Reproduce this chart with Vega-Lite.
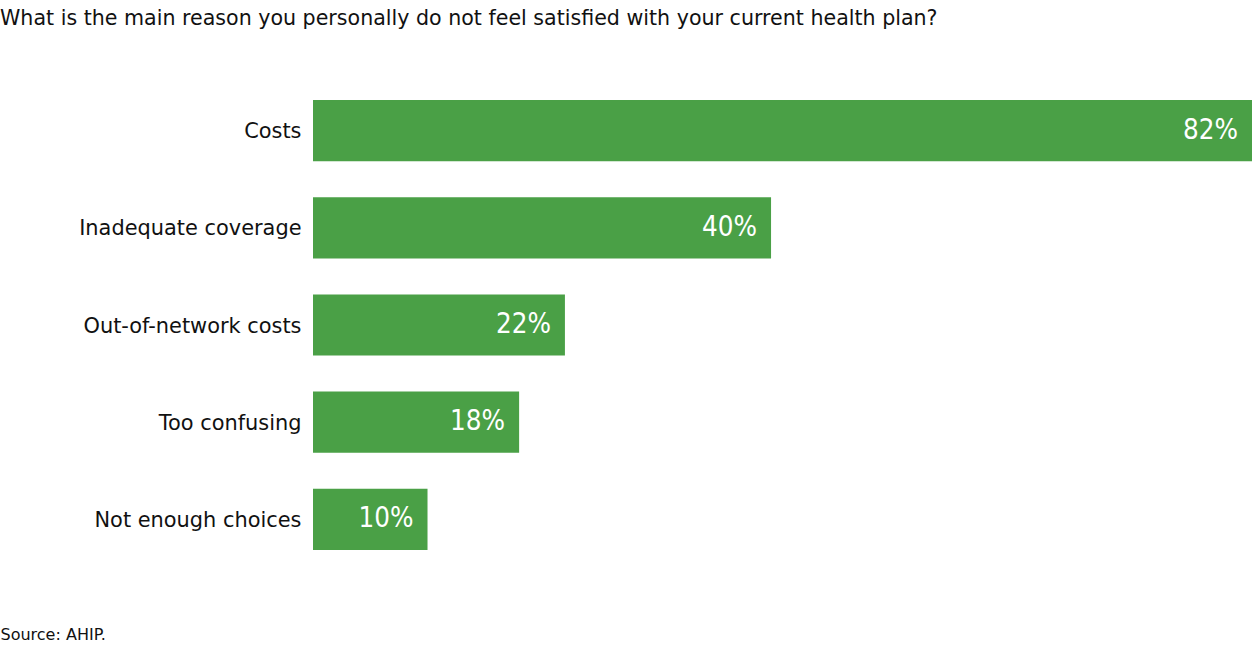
{
  "$schema": "https://vega.github.io/schema/vega-lite/v6.json",
  "autosize": "none",
  "width": 939,
  "height": 486,
  "padding": {"left": 313, "top": 82, "right": 7, "bottom": 79},
  "background": "white",
  "title": {
    "text": "What is the main reason you personally do not feel satisfied with your current health plan?",
    "anchor": "start",
    "frame": "group",
    "dx": -313,
    "offset": 52,
    "font": "DejaVu Sans",
    "fontSize": 20.6,
    "fontWeight": "normal",
    "color": "#111111"
  },
  "data": {
    "values": [
      {"reason": "Costs", "pct": 82, "label": "82%"},
      {"reason": "Inadequate coverage", "pct": 40, "label": "40%"},
      {"reason": "Out-of-network costs", "pct": 22, "label": "22%"},
      {"reason": "Too confusing", "pct": 18, "label": "18%"},
      {"reason": "Not enough choices", "pct": 10, "label": "10%"}
    ]
  },
  "encoding": {
    "y": {
      "field": "reason",
      "type": "nominal",
      "sort": null,
      "scale": {"paddingInner": 0.37, "paddingOuter": 0.185},
      "axis": {
        "title": null,
        "domain": false,
        "ticks": false,
        "labelPadding": 12,
        "labelLimit": 400,
        "labelOffset": 1.5,
        "labelFont": "DejaVu Sans",
        "labelFontSize": 20.9,
        "labelColor": "#111111"
      }
    },
    "x": {
      "field": "pct",
      "type": "quantitative",
      "scale": {"domain": [0, 82], "nice": false},
      "axis": {
        "labels": false,
        "ticks": false,
        "domain": false,
        "grid": false,
        "title": "Source: AHIP.",
        "titleAnchor": "start",
        "titleAlign": "left",
        "titleX": -313,
        "titleY": 58,
        "titleFont": "DejaVu Sans",
        "titleFontSize": 16,
        "titleFontWeight": "normal",
        "titleColor": "#111111"
      }
    }
  },
  "layer": [
    {"mark": {"type": "bar", "color": "#4aa046"}},
    {
      "mark": {
        "type": "text",
        "align": "right",
        "dx": -14,
        "baseline": "middle",
        "color": "white",
        "font": "DejaVu Sans Condensed",
        "fontSize": 27.5
      },
      "encoding": {"text": {"field": "label", "type": "nominal"}}
    }
  ],
  "config": {"view": {"stroke": null}}
}
